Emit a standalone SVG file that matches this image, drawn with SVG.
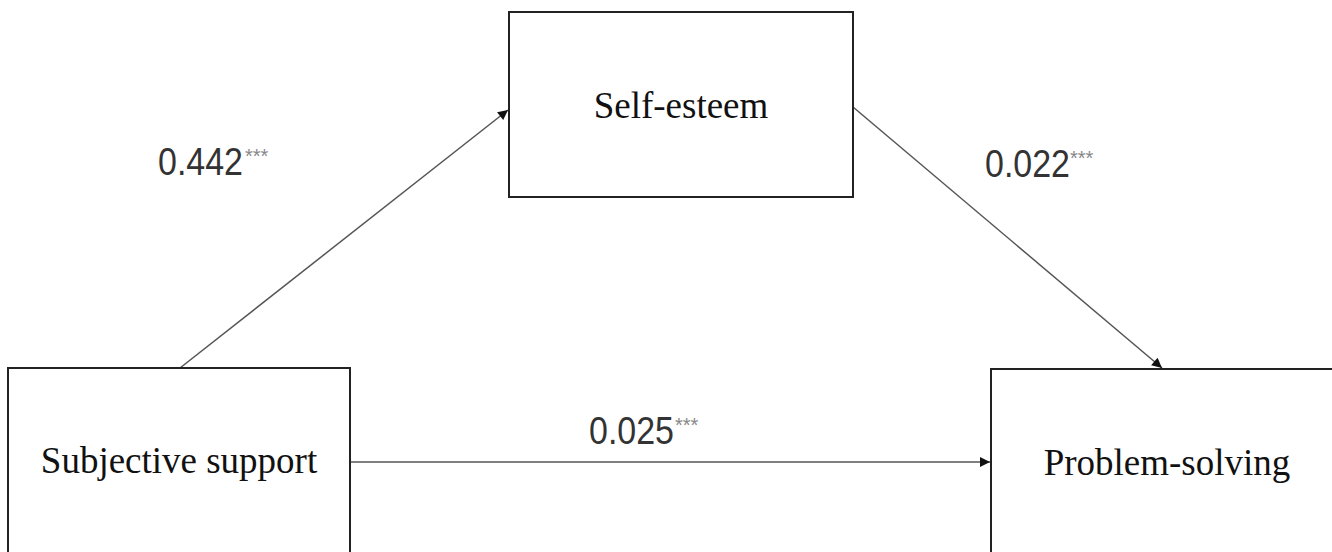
<svg xmlns="http://www.w3.org/2000/svg" width="1332" height="552" viewBox="0 0 1332 552">
<style>
.box{fill:#fff;stroke:#222;stroke-width:2}
.lbl{font-family:"Liberation Serif","Times New Roman",serif;font-size:37px;fill:#111;text-anchor:middle}
.coef{font-family:"Liberation Sans",Arial,sans-serif;font-size:34px;fill:#333}
.star{font-family:"Liberation Sans",Arial,sans-serif;font-size:20px;fill:#888}
.edge{stroke:#555;stroke-width:1.5;fill:none}
</style>
<defs>
<marker id="arr" viewBox="0 0 10 10" refX="10" refY="5" markerWidth="8" markerHeight="8" markerUnits="userSpaceOnUse" orient="auto">
<path d="M0,0 L10,5 L0,10 z" fill="#111"/>
</marker>
<marker id="arrL" viewBox="0 0 10 10" refX="10" refY="5" markerWidth="14" markerHeight="10" markerUnits="userSpaceOnUse" orient="auto">
<path d="M0,0 L10,5 L0,10 z" fill="#111"/>
</marker>
</defs>
<rect width="1332" height="552" fill="#fff"/>
<g id="connectors">
<line class="edge" x1="180" y1="368" x2="508" y2="110" marker-end="url(#arrL)"/>
<line class="edge" x1="853" y1="107" x2="1162" y2="368" marker-end="url(#arrL)"/>
<line class="edge" x1="351" y1="462" x2="990" y2="462" marker-end="url(#arrL)"/>
</g>
<g id="self-esteem">
<rect class="box" x="509" y="12" width="344" height="185"/>
<text class="lbl" x="681" y="118" transform="translate(0,118) scale(1,1.05) translate(0,-118)">Self-esteem</text>
</g>
<g id="subjective-support">
<rect class="box" x="8" y="368" width="342" height="200"/>
<text class="lbl" x="179" y="473" transform="translate(0,473) scale(1,1.05) translate(0,-473)">Subjective support</text>
</g>
<g id="problem-solving">
<rect class="box" x="991" y="369" width="360" height="200"/>
<text class="lbl" x="1167" y="475" transform="translate(0,475) scale(1,1.05) translate(0,-475)">Problem-solving</text>
</g>
<g id="coef-a">
<text class="coef" x="158" y="175" transform="translate(0,175) scale(1,1.14) translate(0,-175)">0.442</text>
<text class="star" x="245" y="163">***</text>
</g>
<g id="coef-b">
<text class="coef" x="985" y="177" transform="translate(0,177) scale(1,1.14) translate(0,-177)">0.022</text>
<text class="star" x="1070" y="165">***</text>
</g>
<g id="coef-c">
<text class="coef" x="589" y="444" transform="translate(0,444) scale(1,1.14) translate(0,-444)">0.025</text>
<text class="star" x="675" y="432">***</text>
</g>
</svg>
